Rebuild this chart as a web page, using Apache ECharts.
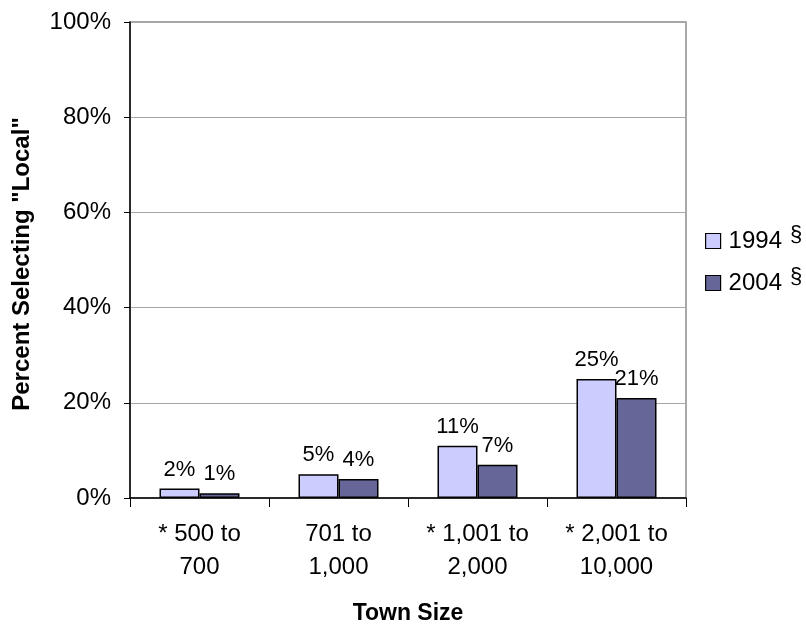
<!DOCTYPE html>
<html>
<head>
<meta charset="utf-8">
<script src="https://cdn.jsdelivr.net/npm/echarts@6/dist/echarts.min.js"></script>
<style>
  html, body { margin: 0; padding: 0; background: #ffffff; }
  #chart { width: 806px; height: 625px; }
</style>
</head>
<body>
<div id="chart"></div>
<script>
// Town size groups (asterisk marks a significant change)
const categories = ['* 500 to\n700', '701 to\n1,000', '* 1,001 to\n2,000', '* 2,001 to\n10,000'];
// Percent selecting "Local", by survey year
const values1994 = [2, 5, 11, 25];
const values2004 = [1, 4, 7, 21];
const seriesNames = ['1994', '2004'];
const yTicks = [0, 20, 40, 60, 80, 100];

const FONT = '"Liberation Sans", Arial, sans-serif';

const chart = echarts.init(document.getElementById('chart'), null, { renderer: 'canvas' });

const labelStyle = {
  show: true,
  position: 'top',
  distance: 8,
  formatter: '{c}%',
  fontFamily: FONT,
  fontSize: 22,
  color: '#000'
};

chart.setOption({
  animation: false,
  backgroundColor: '#ffffff',
  grid: {
    left: 130, right: 120, top: 22, bottom: 127,
    show: true,
    borderColor: '#8c8c8c',
    borderWidth: 1.5,
    backgroundColor: 'transparent'
  },
  legend: {
    orient: 'vertical',
    left: 700,
    top: 219,
    itemWidth: 15,
    itemHeight: 15,
    itemGap: 8,
    icon: 'rect',
    itemStyle: { borderColor: '#000', borderWidth: 1.2 },
    data: seriesNames,
    formatter: function (name) { return '{t|' + name + '}{s|§}'; },
    textStyle: {
      rich: {
        t: { fontFamily: FONT, fontSize: 24, lineHeight: 28, color: '#000', padding: [0, 8, 0, 3] },
        s: { fontFamily: FONT, fontSize: 22, lineHeight: 28, color: '#000', padding: [0, 0, 12, 0] }
      }
    }
  },
  xAxis: {
    type: 'category',
    data: categories,
    axisLine: { lineStyle: { color: '#000', width: 1.5 } },
    axisTick: { show: true, length: 9, alignWithLabel: false, lineStyle: { color: '#000', width: 1 } },
    axisLabel: {
      fontFamily: FONT, fontSize: 24, color: '#000',
      margin: 20, lineHeight: 33, interval: 0
    }
  },
  yAxis: {
    type: 'value',
    min: yTicks[0], max: yTicks[yTicks.length - 1], interval: 20,
    axisLine: { show: true, lineStyle: { color: '#000', width: 1.5 } },
    axisTick: { show: true, length: 6, lineStyle: { color: '#000', width: 1 } },
    axisLabel: {
      fontFamily: FONT, fontSize: 24, color: '#000', margin: 19,
      formatter: '{value}%'
    },
    splitLine: { show: true, lineStyle: { color: '#a6a6a6', width: 1.2 } }
  },
  series: [
    {
      name: seriesNames[0], type: 'bar', data: values1994,
      barWidth: 40, barGap: '0%',
      itemStyle: { color: '#ccccff', borderColor: '#000', borderWidth: 1.5 },
      label: labelStyle
    },
    {
      name: seriesNames[1], type: 'bar', data: values2004,
      barWidth: 40, barGap: '0%',
      itemStyle: { color: '#666699', borderColor: '#000', borderWidth: 1.5 },
      label: labelStyle
    }
  ],
  graphic: [
    {
      type: 'text',
      x: 408, y: 614,
      style: {
        text: 'Town Size', fontFamily: FONT, fontSize: 23, fontWeight: 'bold', fill: '#000',
        align: 'center', verticalAlign: 'middle'
      }
    },
    {
      type: 'text',
      x: 22, y: 264,
      rotation: Math.PI / 2,
      style: {
        text: 'Percent Selecting "Local"', fontFamily: FONT, fontSize: 24, fontWeight: 'bold',
        fill: '#000', align: 'center', verticalAlign: 'middle'
      }
    }
  ]
});
</script>
</body>
</html>
